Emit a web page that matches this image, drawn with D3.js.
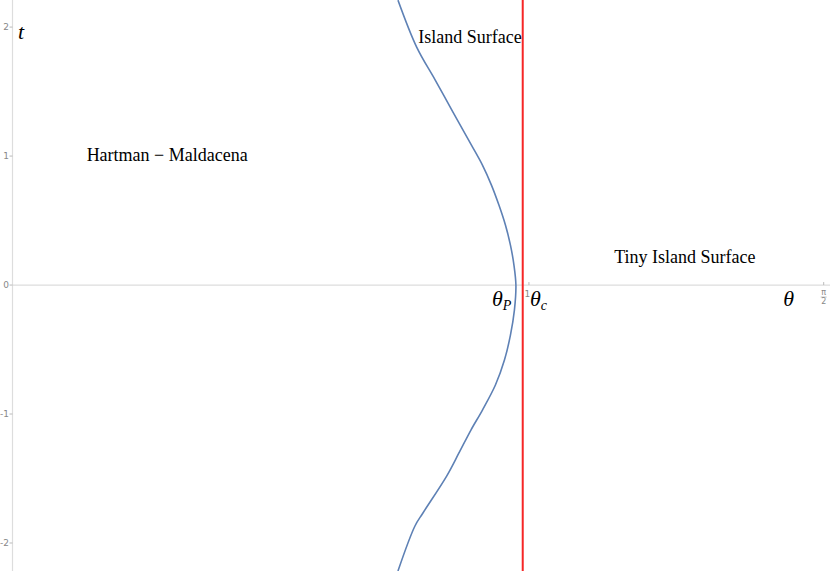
<!DOCTYPE html>
<html>
<head>
<meta charset="utf-8">
<script src="https://cdn.jsdelivr.net/npm/d3@7"></script>
<style>
  body { margin: 0; background: #fff; }
  .tick-label { font-family: "DejaVu Sans", sans-serif; font-size: 9px; fill: #888; }
  .note { font-family: "Liberation Serif", serif; font-size: 18px; fill: #000; }
  .sym { font-family: "Liberation Serif", serif; font-style: italic; fill: #000; }
</style>
</head>
<body>
<div id="chart"></div>
<script>
// chart size
const width = 830, height = 571;
const margin = {top: 0, right: 0, bottom: 0, left: 12.5};

// data: island surface curve (theta, t)
const curveTheta = [0.7464, 0.7826, 0.8186, 0.8529, 0.8887, 0.9100, 0.9274, 0.9419, 0.9545, 0.9642, 0.9710, 0.9748,
                    0.9719, 0.9642, 0.9526, 0.9351, 0.9100, 0.8877, 0.8645, 0.8407, 0.7948, 0.7793, 0.7464];
const curveT     = [2.209, 1.845, 1.589, 1.341, 1.085, 0.930, 0.775, 0.620, 0.465, 0.310, 0.155, 0.0,
                    -0.194, -0.388, -0.581, -0.775, -0.969, -1.124, -1.302, -1.481, -1.767, -1.868, -2.217];
const thetaC = 0.988;
const yTicks = [-2, -1, 0, 1, 2];
const xTicks = [1];
const labels = [
  {text: 'Hartman \u2212 Maldacena', theta: 0.2995, t: 0.96},
  {text: 'Island Surface', theta: 0.886, t: 1.88},
  {text: 'Tiny Island Surface', theta: 1.302, t: 0.17}
];

// scales
const x = d3.scaleLinear().domain([0, 1.583]).range([margin.left, width]);
const y = d3.scaleLinear().domain([-2.217, 2.21]).range([height, 0]);

const svg = d3.select('#chart').append('svg')
    .attr('width', width)
    .attr('height', height);

// axes lines
svg.append('line')
    .attr('x1', x(0)).attr('x2', width)
    .attr('y1', y(0)).attr('y2', y(0))
    .attr('stroke', '#ddd').attr('stroke-width', 1.2);
svg.append('line')
    .attr('x1', x(0)).attr('x2', x(0))
    .attr('y1', 0).attr('y2', height)
    .attr('stroke', '#ddd').attr('stroke-width', 1.2);

// y ticks
const yt = svg.append('g');
yt.selectAll('line').data(yTicks).join('line')
    .attr('x1', x(0) - 3).attr('x2', x(0))
    .attr('y1', d => y(d)).attr('y2', d => y(d))
    .attr('stroke', '#bbb');
yt.selectAll('text').data(yTicks).join('text')
    .attr('class', 'tick-label')
    .attr('x', x(0) - 3.5).attr('y', d => y(d) + 3)
    .attr('text-anchor', 'end')
    .text(d => d < 0 ? '-' + Math.abs(d) : d);

// x ticks
const xt = svg.append('g');
xt.selectAll('line').data(xTicks.concat([Math.PI / 2])).join('line')
    .attr('x1', d => x(d)).attr('x2', d => x(d))
    .attr('y1', y(0) - 3).attr('y2', y(0))
    .attr('stroke', '#bbb');
xt.selectAll('text').data(xTicks).join('text')
    .attr('class', 'tick-label')
    .attr('x', d => x(d) - 1.5).attr('y', y(0) + 12)
    .attr('text-anchor', 'middle')
    .text(d => d);
// pi/2 fraction
const px = x(Math.PI / 2);
xt.append('text').attr('class', 'tick-label').style('font-size', '8px')
    .attr('x', px).attr('y', y(0) + 10).attr('text-anchor', 'middle').text('\u03c0');
xt.append('line')
    .attr('x1', px - 3).attr('x2', px + 3)
    .attr('y1', y(0) + 12).attr('y2', y(0) + 12)
    .attr('stroke', '#999').attr('stroke-width', 0.6);
xt.append('text').attr('class', 'tick-label').style('font-size', '8px')
    .attr('x', px).attr('y', y(0) + 19).attr('text-anchor', 'middle').text('2');

// island surface curve
const pts = curveTheta.map((d, i) => [d, curveT[i]]);
svg.append('path')
    .datum(pts)
    .attr('fill', 'none')
    .attr('stroke', '#5E81B5')
    .attr('stroke-width', 1.6)
    .attr('d', d3.line().x(d => x(d[0])).y(d => y(d[1])).curve(d3.curveCatmullRom));

// critical angle line
svg.append('line')
    .attr('x1', x(thetaC)).attr('x2', x(thetaC))
    .attr('y1', 0).attr('y2', height)
    .attr('stroke', '#f62626').attr('stroke-width', 2);

// text notes
svg.selectAll('.note').data(labels).join('text')
    .attr('class', 'note')
    .attr('x', d => x(d.theta)).attr('y', d => y(d.t))
    .attr('text-anchor', 'middle')
    .text(d => d.text);

// symbols
svg.append('text').attr('class', 'sym').style('font-size', '22px')
    .attr('x', 18).attr('y', 39).text('t');
svg.append('text').attr('class', 'sym').style('font-size', '22px')
    .attr('x', x(1.503)).attr('y', y(0) + 21).attr('text-anchor', 'middle').text('\u03b8');

const thP = svg.append('text').attr('class', 'sym').style('font-size', '22px')
    .attr('x', 492).attr('y', y(0) + 21);
thP.append('tspan').text('\u03b8');
thP.append('tspan').attr('dy', 4).style('font-size', '14px').text('P');

const thC = svg.append('text').attr('class', 'sym').style('font-size', '22px')
    .attr('x', 530).attr('y', y(0) + 21);
thC.append('tspan').text('\u03b8');
thC.append('tspan').attr('dy', 4).style('font-size', '14px').text('c');
</script>
</body>
</html>
